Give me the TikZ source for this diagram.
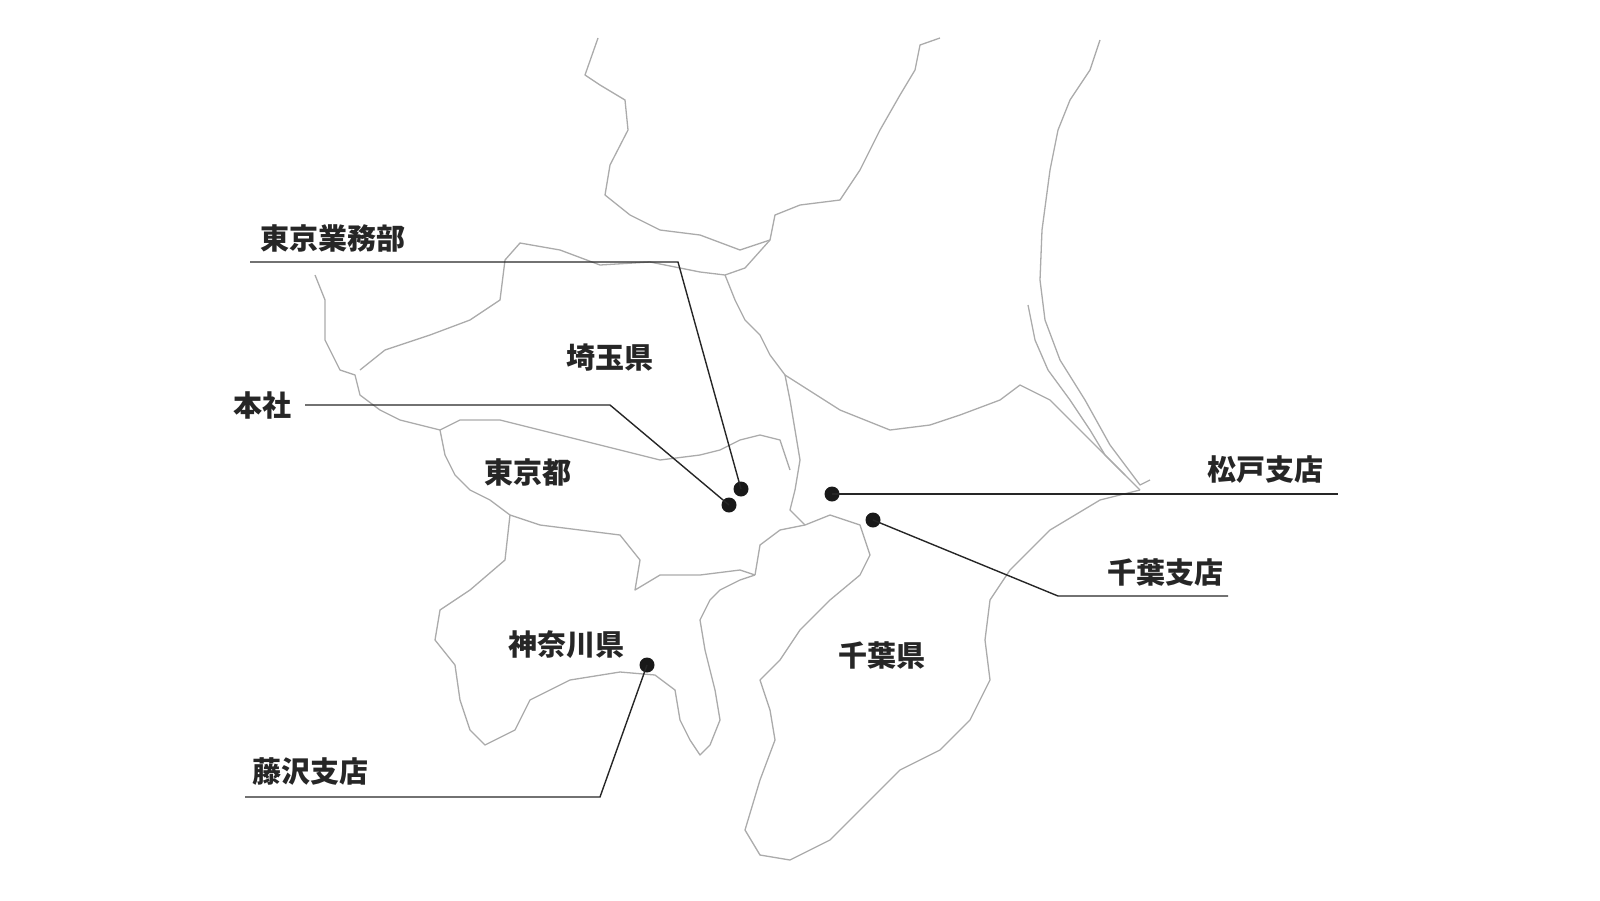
\documentclass[tikz,border=0pt]{standalone}
\usepackage{fontspec}
\newfontfamily\jp{Noto Sans CJK JP}
\begin{document}
\begin{tikzpicture}[x=1pt,y=-1pt,
  map/.style={draw=black!33,line width=1.3pt,line join=round},
  lead/.style={draw=black!85,line width=1.4pt},
  dot/.style={circle,fill=black!90,inner sep=0pt,minimum size=15pt},
  lab/.style={font=\jp\bfseries\fontsize{29}{29}\selectfont,text=black!85,inner sep=0pt}]
\useasboundingbox (0,0) rectangle (1600,900);
% map outlines
\draw[map] (598,38) -- (585,75) -- (600,85) -- (625,100) -- (628,130) -- (610,165) -- (605,195) -- (630,215) -- (660,230) -- (700,235) -- (740,250) -- (770,240) -- (775,215) -- (800,205) -- (840,200) -- (860,170) -- (880,130) -- (900,95) -- (915,70) -- (920,45) -- (940,38);
\draw[map] (315,275) -- (325,300) -- (325,340) -- (340,370) -- (355,375) -- (360,395) -- (380,410) -- (400,420) -- (420,425) -- (440,430);
\draw[map] (360,370) -- (385,350) -- (430,335) -- (470,320) -- (500,300) -- (505,260) -- (520,243) -- (560,250) -- (600,265) -- (650,262) -- (700,272) -- (725,275) -- (745,268) -- (770,240);
\draw[map] (725,275) -- (735,300) -- (745,320) -- (760,335) -- (770,355) -- (785,375) -- (790,400) -- (795,430) -- (800,460) -- (795,490) -- (790,510) -- (805,525);
\draw[map] (785,375) -- (840,410) -- (890,430) -- (930,425) -- (960,415) -- (1000,400) -- (1020,385) -- (1050,400) -- (1080,430) -- (1110,460) -- (1140,490);
\draw[map] (1100,40) -- (1090,70) -- (1070,100) -- (1058,130) -- (1050,170) -- (1042,230) -- (1040,280) -- (1045,320) -- (1060,360) -- (1085,400) -- (1110,445) -- (1140,485) -- (1150,480);
\draw[map] (1028,305) -- (1035,340) -- (1048,370) -- (1070,400) -- (1090,430) -- (1105,455) -- (1125,475);
\draw[map] (440,430) -- (460,420) -- (500,420) -- (540,430) -- (580,440) -- (620,450) -- (660,460) -- (700,455) -- (720,450) -- (740,440) -- (760,435) -- (780,440) -- (790,470);
\draw[map] (440,430) -- (445,455) -- (455,475) -- (470,490) -- (490,500) -- (510,515) -- (540,525) -- (580,530) -- (620,535) -- (640,560) -- (635,590) -- (660,575) -- (700,575) -- (740,570) -- (755,575);
\draw[map] (510,515) -- (505,560) -- (470,590) -- (440,610) -- (435,640) -- (455,665) -- (460,700) -- (470,730) -- (485,745) -- (515,730) -- (530,700) -- (570,680) -- (620,672) -- (655,675) -- (675,690) -- (680,720) -- (690,740) -- (700,755) -- (710,745) -- (720,720) -- (715,690) -- (705,650) -- (700,620) -- (710,600) -- (720,590) -- (740,580) -- (755,575);
\draw[map] (755,575) -- (760,545) -- (780,530) -- (805,525) -- (830,515) -- (860,525) -- (870,555) -- (860,575) -- (830,600) -- (800,630) -- (780,660) -- (760,680) -- (770,710) -- (775,740) -- (760,780) -- (745,830) -- (760,855) -- (790,860) -- (830,840) -- (870,800) -- (900,770) -- (940,750) -- (970,720) -- (990,680) -- (985,640) -- (990,600) -- (1010,570) -- (1050,530) -- (1100,500) -- (1140,490);
% dots
\node[dot] (gyomu) at (741,489) {};
\node[dot] (honsha) at (729,505) {};
\node[dot] (matsudo) at (832,494) {};
\node[dot] (chiba) at (873,520) {};
\node[dot] (fuji) at (647,665) {};
% labels
\node[lab] (tgy) at (333,238) {東京業務部};
\node[lab] (thn) at (262,405) {本社};
\node[lab] (tmt) at (1265,470) {松戸支店};
\node[lab] (tcb) at (1165,572) {千葉支店};
\node[lab] (tfj) at (310,772) {藤沢支店};
\node[lab] (saitama) at (610,358) {埼玉県};
\node[lab] (tokyo) at (528,472) {東京都};
\node[lab] (kanagawa) at (566,645) {神奈川県};
\node[lab] (chibak) at (882,655) {千葉県};
% leaders
\coordinate (a1) at (250,262); \coordinate (a2) at (678,262);
\draw[lead] (a1) -- (a2) -- (gyomu.center);
\coordinate (b1) at (305,405); \coordinate (b2) at (610,405);
\draw[lead] (b1) -- (b2) -- (honsha.center);
\coordinate (c1) at (1338,494);
\draw[lead] (matsudo.center) -- (c1);
\coordinate (d1) at (1058,596); \coordinate (d2) at (1228,596);
\draw[lead] (chiba.center) -- (d1) -- (d2);
\coordinate (e1) at (245,797); \coordinate (e2) at (600,797);
\draw[lead] (e1) -- (e2) -- (fuji.center);
\end{tikzpicture}
\end{document}
